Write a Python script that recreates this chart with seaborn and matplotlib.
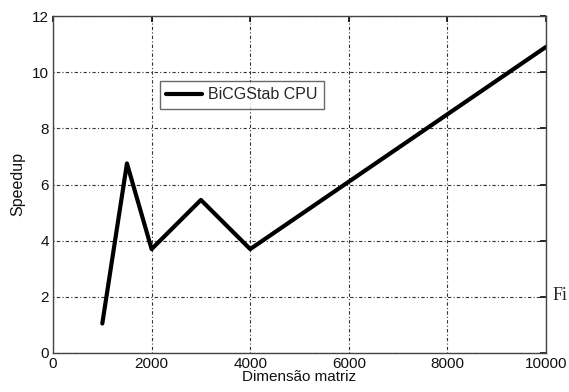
import matplotlib
matplotlib.use("Agg")
import matplotlib.pyplot as plt
import seaborn as sns
import pandas as pd

dimensao = [1000, 1500, 2000, 3000, 4000, 10000]
speedup = [1.05, 6.75, 3.7, 5.45, 3.7, 10.9]
serie = "BiCGStab CPU"
xticks = [0, 2000, 4000, 6000, 8000, 10000]
yticks = [0, 2, 4, 6, 8, 10, 12]

sns.set_theme(style="white")
plt.rcParams['font.family'] = ['Liberation Sans', 'DejaVu Sans']

df = pd.DataFrame({"Dimensão matriz": dimensao, "Speedup": speedup, "serie": serie})

fig = plt.figure(figsize=(5.69, 3.92), dpi=100)
ax = fig.add_axes([53/569, 1 - 353/392, (546-53)/569, (353-16)/392])
sns.lineplot(data=df, x="Dimensão matriz", y="Speedup", hue="serie",
             palette=["black"], linewidth=3, ax=ax, sort=False)

ax.set_xlim(0, 10000)
ax.set_ylim(0, 12)
ax.set_xticks(xticks)
ax.set_yticks(yticks)
ax.set_xticklabels([str(t) for t in xticks], fontsize=11)
ax.set_yticklabels([str(t) for t in yticks], fontsize=11)
ax.tick_params(direction="in", length=4, top=True, right=True, pad=3, colors="#111111")
ax.grid(True, color="#333333", linestyle=(0, (1, 2, 3, 2)), linewidth=0.8)
for s in ax.spines.values():
    s.set_color("#444444")
    s.set_linewidth(1.0)
ax.set_xlabel("Dimensão matriz", fontsize=11, color="#111111", labelpad=-1)
ax.set_ylabel("Speedup", fontsize=11.5, color="#111111", labelpad=5)

leg = ax.legend(loc="upper left", bbox_to_anchor=((160-53)/493, 1 - (81-16)/337),
                frameon=True, fancybox=False, edgecolor="#444444", fontsize=11.5,
                handlelength=2.2, borderpad=0.4, borderaxespad=0, handletextpad=0.4)
leg.get_frame().set_linewidth(1.0)

fig.text(553/569, 1 - 296/392, "Fi", fontsize=13, family="Liberation Serif", va="center")

fig.savefig("out.png", dpi=100)
